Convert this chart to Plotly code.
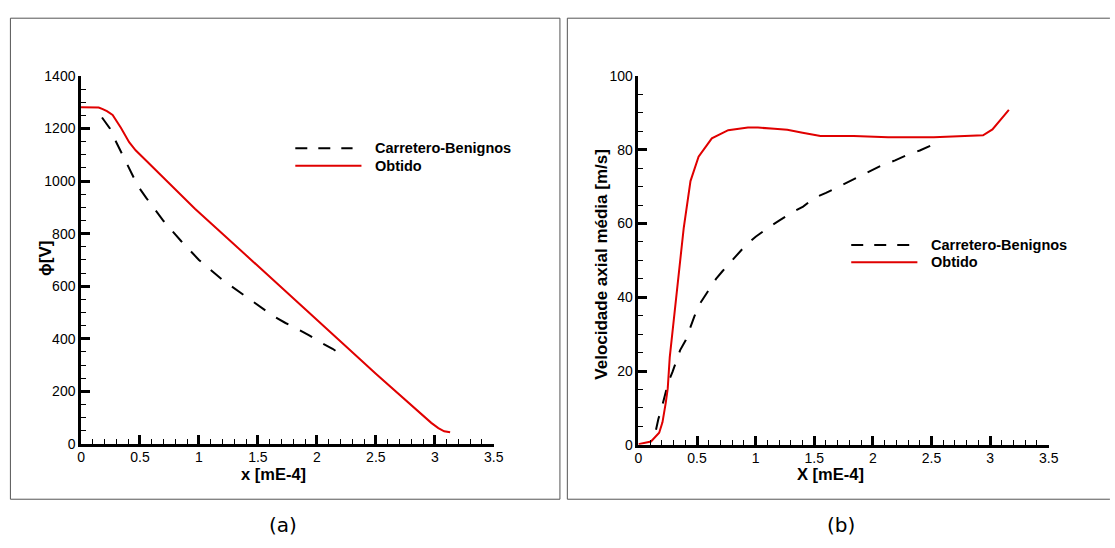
import plotly.graph_objects as go

# ---------------- data ----------------
# (a) electric potential along the axis
phi_obt_x = [0, 0.15, 0.184, 0.22, 0.268, 0.338, 0.408, 0.463, 0.547, 0.659, 0.743, 0.854,
             0.966, 1.162, 1.44, 1.75, 2.0, 2.25, 2.5, 2.75, 2.9, 2.97, 3.03, 3.08, 3.13]
phi_obt_y = [1281, 1280, 1274, 1266, 1252, 1203, 1148, 1117, 1080, 1031, 994, 945,
             895, 815, 702, 575, 473, 370, 267, 166, 106, 80, 60, 48, 44]

phi_cb_x = [0.178, 0.245, 0.29, 0.338, 0.388, 0.435, 0.486, 0.553, 0.7, 0.85, 1.0, 1.2,
            1.4, 1.539, 1.631, 1.734, 1.826, 1.935, 2.027, 2.133, 2.222]
phi_cb_y = [1242, 1200, 1156, 1111, 1068, 1024, 979, 936, 848, 771, 700, 624,
            560, 517, 486, 460, 440, 413, 387, 362, 335]

# (b) mean axial velocity
vel_obt_x = [0, 0.05, 0.107, 0.177, 0.205, 0.233, 0.25, 0.267, 0.306, 0.35, 0.386, 0.444,
             0.513, 0.626, 0.766, 0.934, 1.02, 1.16, 1.27, 1.4, 1.5, 1.553, 1.836, 2.13,
             2.52, 2.70, 2.94, 3.02, 3.16]
vel_obt_y = [0.2, 0.6, 0.9, 3.3, 6.1, 11.4, 15.3, 23.7, 35.8, 47.7, 58.7, 71.5,
             78.1, 83.1, 85.3, 86.0, 86.0, 85.7, 85.4, 84.6, 84.0, 83.7, 83.7, 83.4,
             83.4, 83.7, 83.9, 85.5, 90.8]

vel_cb_x = [0.15, 0.17, 0.2, 0.23, 0.255, 0.29, 0.32, 0.356, 0.404, 0.44, 0.478, 0.529,
            0.588, 0.662, 0.72, 0.81, 0.915, 1.0, 1.108, 1.21, 1.30, 1.405, 1.503, 1.60,
            1.70, 1.806, 1.895, 2.0, 2.09, 2.19, 2.28, 2.4, 2.5]
vel_cb_y = [4.1, 7.0, 10.2, 13.9, 17.0, 19.7, 22.5, 25.7, 28.4, 31.7, 34.9, 38.5,
            41.3, 45, 47.2, 50.5, 54.1, 56.4, 58.9, 61, 62.8, 64.6, 67, 68.3,
            69.9, 71.5, 72.9, 74.5, 76, 77.1, 78.4, 79.8, 81.2]

x_ticks = [0, 0.5, 1, 1.5, 2, 2.5, 3, 3.5]
x_tick_text = ["0", "0.5", "1", "1.5", "2", "2.5", "3", "3.5"]
phi_ticks = [0, 200, 400, 600, 800, 1000, 1200, 1400]
vel_ticks = [0, 20, 40, 60, 80, 100]

series_names = ["Carretero-Benignos", "Obtido"]

# ---------------- style ----------------
W, H = 1115, 548
RED = "#e00000"
DASH = "14px,13px"
TICK_FONT = dict(family="Liberation Sans, Arial", size=14, color="black")
TITLE_FONT = dict(family="Liberation Sans, Arial", size=16.5, color="black")
LEG_FONT = dict(family="Liberation Sans, Arial", size=14.5, color="black")


def px(x):
    return x / W


def py(y):
    return 1 - y / H


fig = go.Figure()

fig.add_trace(go.Scatter(x=phi_cb_x, y=phi_cb_y, mode="lines", xaxis="x", yaxis="y",
                         line=dict(color="black", width=2, dash=DASH), showlegend=False))
fig.add_trace(go.Scatter(x=phi_obt_x, y=phi_obt_y, mode="lines", xaxis="x", yaxis="y",
                         line=dict(color=RED, width=2), showlegend=False))
fig.add_trace(go.Scatter(x=vel_cb_x, y=vel_cb_y, mode="lines", xaxis="x2", yaxis="y2",
                         line=dict(color="black", width=2, dash=DASH), showlegend=False))
fig.add_trace(go.Scatter(x=vel_obt_x, y=vel_obt_y, mode="lines", xaxis="x2", yaxis="y2",
                         line=dict(color=RED, width=2), showlegend=False))


def axis_common():
    return dict(
        showline=True, linecolor="black", linewidth=2.5, mirror=False,
        showgrid=False, zeroline=False,
        ticks="inside", ticklen=9, tickwidth=2.5, tickcolor="black",
        tickfont=TICK_FONT,
    )


xa = dict(axis_common(), range=[0, 3.5], tickvals=x_ticks, ticktext=x_tick_text,
          ticklabelstandoff=-1,
          minor=dict(dtick=0.1, ticks="inside", ticklen=5, tickwidth=1, tickcolor="black"))

fig.update_layout(
    width=W, height=H,
    margin=dict(l=0, r=0, t=0, b=0),
    paper_bgcolor="white", plot_bgcolor="white",
    showlegend=False,
    xaxis=dict(xa, domain=[px(78), px(496)], anchor="y"),
    yaxis=dict(axis_common(), range=[0, 1400], tickvals=phi_ticks,
               domain=[py(449), py(70)], anchor="x",
               minor=dict(dtick=50, ticks="inside", ticklen=5, tickwidth=1, tickcolor="black")),
    xaxis2=dict(xa, domain=[px(642.5), px(1058)], anchor="y2"),
    yaxis2=dict(axis_common(), range=[0, 100], tickvals=vel_ticks,
                domain=[py(450), py(70)], anchor="x2",
                minor=dict(dtick=5, ticks="inside", ticklen=5, tickwidth=1, tickcolor="black")),
)

shapes = []
annotations = []

# panel frames (the right one runs off the page edge)
FRAME = dict(color="#555555", width=1)
shapes.append(dict(type="rect", xref="paper", yref="paper",
                   x0=px(6.5), x1=px(563), y0=py(506), y1=py(10.5), line=FRAME))
shapes.append(dict(type="path", xref="paper", yref="paper",
                   path="M %f,%f L %f,%f L %f,%f L %f,%f" % (
                       px(1120), py(10.5), px(570.5), py(10.5),
                       px(570.5), py(506), px(1120), py(506)),
                   line=FRAME))

# legends (line samples + labels)
for lx0, dash_x1, red_x1, ly1, ly2, tx in [(295, 353, 362, 144.5, 162.5, 374),
                                            (858, 917, 925, 244, 262, 937)]:
    shapes.append(dict(type="line", xref="paper", yref="paper",
                       x0=px(lx0), x1=px(dash_x1), y0=py(ly1), y1=py(ly1),
                       line=dict(color="black", width=2, dash="12px,11px")))
    shapes.append(dict(type="line", xref="paper", yref="paper",
                       x0=px(lx0), x1=px(red_x1), y0=py(ly2), y1=py(ly2),
                       line=dict(color=RED, width=2)))
    for name, yy in zip(series_names, [ly1, ly2]):
        annotations.append(dict(xref="paper", yref="paper", x=px(tx), y=py(yy),
                                text="<b>%s</b>" % name, showarrow=False,
                                xanchor="left", yanchor="middle", font=LEG_FONT))

# axis titles
annotations += [
    dict(xref="paper", yref="paper", x=px(273), y=py(480.5), text="<b>x [mE-4]</b>",
         showarrow=False, xanchor="center", yanchor="middle", font=TITLE_FONT),
    dict(xref="paper", yref="paper", x=px(42), y=py(258), text="<b>ϕ[V]</b>",
         showarrow=False, textangle=-90, xanchor="center", yanchor="middle",
         font=dict(TITLE_FONT, size=17)),
    dict(xref="paper", yref="paper", x=px(837), y=py(480.5), text="<b>X [mE-4]</b>",
         showarrow=False, xanchor="center", yanchor="middle", font=TITLE_FONT),
    dict(xref="paper", yref="paper", x=px(605), y=py(264),
         text="<b>Velocidade axial média [m/s]</b>",
         showarrow=False, textangle=-90, xanchor="center", yanchor="middle",
         font=dict(TITLE_FONT, size=17)),
]

# panel captions
for label, cx in [("(a)", 283), ("(b)", 848)]:
    annotations.append(dict(xref="paper", yref="paper", x=px(cx), y=py(533), text=label,
                            showarrow=False, xanchor="center", yanchor="middle",
                            font=dict(family="DejaVu Sans", size=20, color="black")))

fig.update_layout(shapes=shapes, annotations=annotations)

fig.write_html("out.html")
